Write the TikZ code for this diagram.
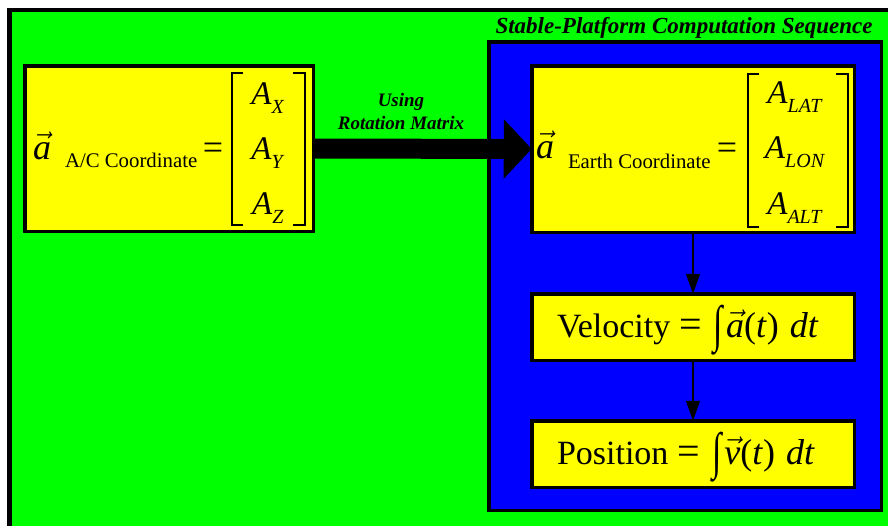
\RequirePackage{fix-cm}
\documentclass[tikz,border=0pt]{standalone}
\usepackage{fontspec}
\setmainfont{Liberation Serif}
\usetikzlibrary{arrows.meta}
\definecolor{bgreen}{RGB}{0,255,0}
\definecolor{bblue}{RGB}{0,0,255}
\definecolor{byellow}{RGB}{255,255,0}
\newcommand{\myvec}[1]{$\vec{\textit{#1}}$}
\newcommand{\myint}{\raisebox{-0.12em}{\scalebox{1}[1.5]{∫}}}
\newcommand{\myA}[1]{\textit{A}\raisebox{-9pt}{\fontsize{20}{20}\selectfont\textit{#1}}}
\newcommand{\myrhs}[1]{\hspace{9pt}{\fontsize{40}{40}\selectfont=}\hspace{12pt}\myint\hspace{3pt}{\fontsize{36}{36}\selectfont\myvec{#1}(\textit{t})\hspace{11pt}\textit{dt}}}
\tikzset{
  ybox/.style={draw=black, fill=byellow, line width=3.5pt, inner sep=0pt, outer sep=0pt},
  txt/.style={inner sep=0pt, outer sep=0pt, anchor=base},
  bigA/.style={txt, font=\fontsize{33}{33}\selectfont},
  vecA/.style={inner sep=0pt, outer sep=0pt, anchor=base west, font=\fontsize{36}{36}\selectfont},
  subtxt/.style={inner sep=0pt, outer sep=0pt, anchor=base west, font=\fontsize{20.8}{20.8}\selectfont},
  eqtxt/.style={txt, font=\fontsize{36}{36}\selectfont},
  brk/.style={line width=1.2pt, black},
  flow/.style={line width=1.5pt, -{Triangle[length=20pt,width=14pt]}},
  lbl/.style={txt, font=\fontsize{19}{19}\selectfont\bfseries\itshape},
  formula/.style={inner sep=0pt, outer sep=0pt, anchor=base west, font=\fontsize{34}{34}\selectfont}
}
\begin{document}
\begin{tikzpicture}[x=1pt,y=-1pt]
\useasboundingbox (0,0) rectangle (888,525);
\clip (0,0) rectangle (888,525);
% outer green panel
\draw[line width=4.5pt, fill=bgreen] (9.5,10) rectangle (960,560);
% stable platform panel
\node[draw=black, fill=bblue, line width=3.5pt, inner sep=0pt, outer sep=0pt,
      minimum width=392.5pt, minimum height=468.5pt] (stable) at (685,276) {};
\node[txt, font=\fontsize{23}{23}\selectfont\bfseries\itshape] (title) at (684,33)
  {Stable-Platform Computation Sequence};
% boxes
\node[ybox, minimum width=288.5pt, minimum height=165.5pt] (acbox) at (169,148.5) {};
\node[ybox, minimum width=322.5pt, minimum height=166.5pt] (earth) at (693,149) {};
\node[ybox, minimum width=322.5pt, minimum height=66.5pt] (vel) at (693,327) {};
\node[ybox, minimum width=322.5pt, minimum height=66.5pt] (pos) at (693,454) {};
% big arrow
\draw[line width=20pt, -{Triangle[length=28pt,width=58pt]}] (acbox.east) -- (earth.west);
\node[lbl] (using) at (401,106) {Using};
\node[lbl] (rotm) at (401,129) {Rotation Matrix};
% A/C coordinate content
\node[vecA] (aca) at (33,159) {\myvec{a}};
\node[subtxt] (acsub) at (65,167) {A/C Coordinate};
\node[eqtxt] (aceq) at (213,159) {=};
\draw[brk] (243,73) -- (232,73) -- (232,225) -- (243,225);
\draw[brk] (293,73) -- (305,73) -- (305,225) -- (293,225);
\node[bigA] (ax) at (268,104) {\myA{X}};
\node[bigA] (ay) at (268,159) {\myA{Y}};
\node[bigA] (az) at (268,214) {\myA{Z}};
% Earth coordinate content
\node[vecA] (ea) at (536,158) {\myvec{a}};
\node[subtxt] (esub) at (568,168) {Earth Coordinate};
\node[eqtxt] (eeq) at (727,159) {=};
\draw[brk] (759,74) -- (748,74) -- (748,227) -- (759,227);
\draw[brk] (836,74) -- (848,74) -- (848,227) -- (836,227);
\node[bigA] (alat) at (795,103) {\myA{LAT}};
\node[bigA] (alon) at (795,158) {\myA{LON}};
\node[bigA] (aalt) at (795,214) {\myA{ALT}};
% velocity / position
\node[formula] (veltxt) at (557,337) {Velocity\myrhs{a}};
\node[formula] (postxt) at (557,464) {Position\myrhs{v}};
% flow arrows
\draw[flow] (earth.south) -- (vel.north);
\draw[flow] (vel.south) -- (pos.north);
\end{tikzpicture}
\end{document}
